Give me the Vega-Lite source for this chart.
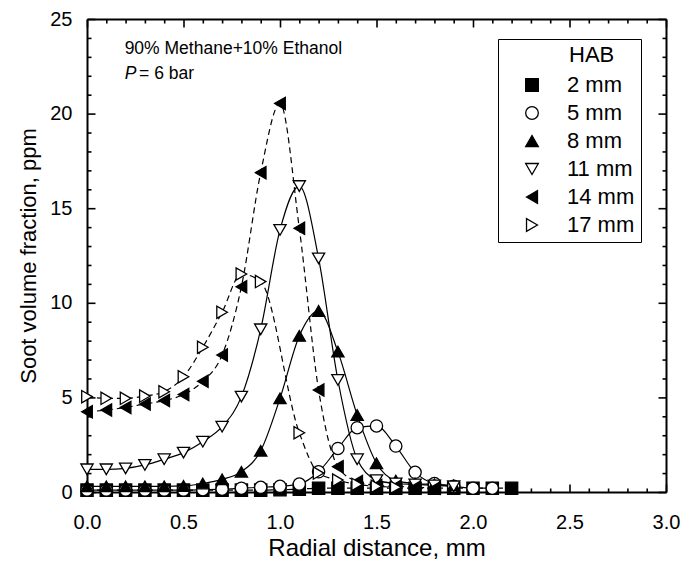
{
  "$schema": "https://vega.github.io/schema/vega-lite/v6.json",
  "width": 579,
  "height": 473,
  "autosize": {"type": "none"},
  "padding": {"left": 87, "top": 19, "right": 27, "bottom": 72},
  "background": "white",
  "config": {
    "view": {"stroke": null},
    "font": "Liberation Sans",
    "axis": {
      "domain": true, "domainColor": "black", "domainWidth": 2, "domainOpacity": 0,
      "ticks": true, "tickColor": "black", "tickWidth": 1.6, "tickOpacity": 1, "tickRound": false,
      "labelColor": "black", "titleColor": "black",
      "labelFontSize": 20, "titleFontSize": 24, "titleFontWeight": "normal",
      "labelFont": "Liberation Sans", "titleFont": "Liberation Sans",
      "grid": false, "labelOverlap": false, "labelFlush": false, "zindex": 2
    },
    "legend": {
      "titleFont": "Liberation Sans", "labelFont": "Liberation Sans",
      "titleFontSize": 22, "titleFontWeight": "normal", "titleColor": "black",
      "labelFontSize": 22, "labelColor": "black",
      "strokeColor": "black", "fillColor": "white", "padding": 6,
      "symbolSize": 160, "symbolStrokeWidth": 1.3, "symbolStrokeColor": "black",
      "rowPadding": 6, "labelOffset": 24, "symbolOffset": 17,
      "titleAnchor": "middle", "titleAlign": "left", "titlePadding": 7
    }
  },
  "data": {
    "values": [
      {"hab": "2 mm", "r": 0.0, "fv": 0.1}, {"hab": "2 mm", "r": 0.1, "fv": 0.1}, {"hab": "2 mm", "r": 0.2, "fv": 0.1}, {"hab": "2 mm", "r": 0.3, "fv": 0.1}, {"hab": "2 mm", "r": 0.4, "fv": 0.1}, {"hab": "2 mm", "r": 0.5, "fv": 0.1}, {"hab": "2 mm", "r": 0.6, "fv": 0.1}, {"hab": "2 mm", "r": 0.7, "fv": 0.1}, {"hab": "2 mm", "r": 0.8, "fv": 0.1}, {"hab": "2 mm", "r": 0.9, "fv": 0.1}, {"hab": "2 mm", "r": 1.0, "fv": 0.12}, {"hab": "2 mm", "r": 1.1, "fv": 0.15}, {"hab": "2 mm", "r": 1.2, "fv": 0.2}, {"hab": "2 mm", "r": 1.3, "fv": 0.2}, {"hab": "2 mm", "r": 1.4, "fv": 0.2}, {"hab": "2 mm", "r": 1.5, "fv": 0.2}, {"hab": "2 mm", "r": 1.6, "fv": 0.2}, {"hab": "2 mm", "r": 1.7, "fv": 0.2}, {"hab": "2 mm", "r": 1.8, "fv": 0.2}, {"hab": "2 mm", "r": 1.9, "fv": 0.2}, {"hab": "2 mm", "r": 2.0, "fv": 0.2}, {"hab": "2 mm", "r": 2.1, "fv": 0.2}, {"hab": "2 mm", "r": 2.2, "fv": 0.2},
      {"hab": "5 mm", "r": 0.0, "fv": 0.1}, {"hab": "5 mm", "r": 0.1, "fv": 0.1}, {"hab": "5 mm", "r": 0.2, "fv": 0.1}, {"hab": "5 mm", "r": 0.3, "fv": 0.1}, {"hab": "5 mm", "r": 0.4, "fv": 0.1}, {"hab": "5 mm", "r": 0.5, "fv": 0.1}, {"hab": "5 mm", "r": 0.6, "fv": 0.12}, {"hab": "5 mm", "r": 0.7, "fv": 0.15}, {"hab": "5 mm", "r": 0.8, "fv": 0.2}, {"hab": "5 mm", "r": 0.9, "fv": 0.25}, {"hab": "5 mm", "r": 1.0, "fv": 0.3}, {"hab": "5 mm", "r": 1.1, "fv": 0.42}, {"hab": "5 mm", "r": 1.2, "fv": 1.07}, {"hab": "5 mm", "r": 1.3, "fv": 2.3}, {"hab": "5 mm", "r": 1.4, "fv": 3.4}, {"hab": "5 mm", "r": 1.5, "fv": 3.49}, {"hab": "5 mm", "r": 1.6, "fv": 2.43}, {"hab": "5 mm", "r": 1.7, "fv": 1.04}, {"hab": "5 mm", "r": 1.8, "fv": 0.45}, {"hab": "5 mm", "r": 1.9, "fv": 0.3}, {"hab": "5 mm", "r": 2.0, "fv": 0.2}, {"hab": "5 mm", "r": 2.1, "fv": 0.2},
      {"hab": "8 mm", "r": 0.0, "fv": 0.3}, {"hab": "8 mm", "r": 0.1, "fv": 0.3}, {"hab": "8 mm", "r": 0.2, "fv": 0.3}, {"hab": "8 mm", "r": 0.3, "fv": 0.3}, {"hab": "8 mm", "r": 0.4, "fv": 0.3}, {"hab": "8 mm", "r": 0.5, "fv": 0.32}, {"hab": "8 mm", "r": 0.6, "fv": 0.45}, {"hab": "8 mm", "r": 0.7, "fv": 0.67}, {"hab": "8 mm", "r": 0.8, "fv": 1.07}, {"hab": "8 mm", "r": 0.9, "fv": 2.18}, {"hab": "8 mm", "r": 1.0, "fv": 4.95}, {"hab": "8 mm", "r": 1.1, "fv": 8.25}, {"hab": "8 mm", "r": 1.2, "fv": 9.57}, {"hab": "8 mm", "r": 1.3, "fv": 7.42}, {"hab": "8 mm", "r": 1.4, "fv": 4.07}, {"hab": "8 mm", "r": 1.5, "fv": 1.52}, {"hab": "8 mm", "r": 1.6, "fv": 0.6}, {"hab": "8 mm", "r": 1.7, "fv": 0.45}, {"hab": "8 mm", "r": 1.8, "fv": 0.4}, {"hab": "8 mm", "r": 1.9, "fv": 0.35},
      {"hab": "11 mm", "r": 0.0, "fv": 1.2}, {"hab": "11 mm", "r": 0.1, "fv": 1.2}, {"hab": "11 mm", "r": 0.2, "fv": 1.25}, {"hab": "11 mm", "r": 0.3, "fv": 1.43}, {"hab": "11 mm", "r": 0.4, "fv": 1.73}, {"hab": "11 mm", "r": 0.5, "fv": 2.08}, {"hab": "11 mm", "r": 0.6, "fv": 2.66}, {"hab": "11 mm", "r": 0.7, "fv": 3.45}, {"hab": "11 mm", "r": 0.8, "fv": 5.04}, {"hab": "11 mm", "r": 0.9, "fv": 8.6}, {"hab": "11 mm", "r": 1.0, "fv": 13.85}, {"hab": "11 mm", "r": 1.1, "fv": 16.17}, {"hab": "11 mm", "r": 1.2, "fv": 12.35}, {"hab": "11 mm", "r": 1.3, "fv": 5.92}, {"hab": "11 mm", "r": 1.4, "fv": 1.73}, {"hab": "11 mm", "r": 1.5, "fv": 0.63}, {"hab": "11 mm", "r": 1.6, "fv": 0.45}, {"hab": "11 mm", "r": 1.7, "fv": 0.4}, {"hab": "11 mm", "r": 1.8, "fv": 0.35}, {"hab": "11 mm", "r": 1.9, "fv": 0.3},
      {"hab": "14 mm", "r": 0.0, "fv": 4.24}, {"hab": "14 mm", "r": 0.1, "fv": 4.33}, {"hab": "14 mm", "r": 0.2, "fv": 4.47}, {"hab": "14 mm", "r": 0.3, "fv": 4.65}, {"hab": "14 mm", "r": 0.4, "fv": 4.83}, {"hab": "14 mm", "r": 0.5, "fv": 5.15}, {"hab": "14 mm", "r": 0.6, "fv": 5.85}, {"hab": "14 mm", "r": 0.7, "fv": 7.24}, {"hab": "14 mm", "r": 0.8, "fv": 10.85}, {"hab": "14 mm", "r": 0.9, "fv": 16.88}, {"hab": "14 mm", "r": 1.0, "fv": 20.54}, {"hab": "14 mm", "r": 1.1, "fv": 13.94}, {"hab": "14 mm", "r": 1.2, "fv": 5.39}, {"hab": "14 mm", "r": 1.3, "fv": 1.34}, {"hab": "14 mm", "r": 1.4, "fv": 0.55}, {"hab": "14 mm", "r": 1.5, "fv": 0.35}, {"hab": "14 mm", "r": 1.6, "fv": 0.3}, {"hab": "14 mm", "r": 1.7, "fv": 0.25}, {"hab": "14 mm", "r": 1.8, "fv": 0.2},
      {"hab": "17 mm", "r": 0.0, "fv": 5.04}, {"hab": "17 mm", "r": 0.1, "fv": 4.95}, {"hab": "17 mm", "r": 0.2, "fv": 4.95}, {"hab": "17 mm", "r": 0.3, "fv": 5.07}, {"hab": "17 mm", "r": 0.4, "fv": 5.3}, {"hab": "17 mm", "r": 0.5, "fv": 6.09}, {"hab": "17 mm", "r": 0.6, "fv": 7.65}, {"hab": "17 mm", "r": 0.7, "fv": 9.5}, {"hab": "17 mm", "r": 0.8, "fv": 11.52}, {"hab": "17 mm", "r": 0.9, "fv": 11.12}, {"hab": "17 mm", "r": 1.1, "fv": 3.13}, {"hab": "17 mm", "r": 1.2, "fv": 1.0}, {"hab": "17 mm", "r": 1.3, "fv": 0.63}, {"hab": "17 mm", "r": 1.4, "fv": 0.4}, {"hab": "17 mm", "r": 1.5, "fv": 0.3}, {"hab": "17 mm", "r": 1.6, "fv": 0.25}
    ]
  },
  "resolve": {"axis": {"x": "independent", "y": "independent"}},
  "layer": [
    {
      "transform": [{"filter": {"field": "hab", "oneOf": ["5 mm", "8 mm", "11 mm"]}}],
      "mark": {"type": "line", "interpolate": "monotone", "strokeWidth": 1.2, "color": "black"},
      "encoding": {
        "x": {"field": "r", "type": "quantitative", "scale": {"domain": [0, 3], "nice": false},
          "axis": {"orient": "bottom", "title": "Radial distance, mm",
            "values": [0, 0.5, 1, 1.5, 2, 2.5, 3], "format": ".1f",
            "offset": -8, "tickSize": 8, "labelPadding": 20, "titlePadding": 4,
            "encode": {"ticks": {"update": {"stroke": {"value": "black"}, "strokeWidth": {"value": 1.6}, "opacity": {"value": 1}}}}}},
        "y": {"field": "fv", "type": "quantitative", "scale": {"domain": [0, 25], "nice": false},
          "axis": {"orient": "left", "title": "Soot volume fraction, ppm", "titleFontSize": 22,
            "values": [0, 5, 10, 15, 20, 25], "format": "d",
            "offset": -8, "tickSize": 8, "labelPadding": 15, "titlePadding": 9,
            "encode": {"ticks": {"update": {"stroke": {"value": "black"}, "strokeWidth": {"value": 1.6}, "opacity": {"value": 1}}}}}},
        "detail": {"field": "hab", "type": "nominal"}
      }
    },
    {
      "transform": [{"filter": {"field": "hab", "oneOf": ["2 mm", "14 mm", "17 mm"]}}],
      "mark": {"type": "line", "interpolate": "monotone", "strokeWidth": 1.2, "color": "black", "strokeDash": [6, 4]},
      "encoding": {
        "x": {"field": "r", "type": "quantitative", "scale": {"domain": [0, 3], "nice": false},
          "axis": {"orient": "bottom", "title": null, "labels": false,
            "values": [0.1,0.2,0.3,0.4,0.6,0.7,0.8,0.9,1.1,1.2,1.3,1.4,1.6,1.7,1.8,1.9,2.1,2.2,2.3,2.4,2.6,2.7,2.8,2.9],
            "offset": -4, "tickSize": 4,
            "encode": {"ticks": {"update": {"stroke": {"value": "black"}, "strokeWidth": {"value": 1.6}, "opacity": {"value": 1}}}}}},
        "y": {"field": "fv", "type": "quantitative", "scale": {"domain": [0, 25], "nice": false},
          "axis": {"orient": "left", "title": null, "labels": false,
            "values": [1,2,3,4,6,7,8,9,11,12,13,14,16,17,18,19,21,22,23,24],
            "offset": -4, "tickSize": 4,
            "encode": {"ticks": {"update": {"stroke": {"value": "black"}, "strokeWidth": {"value": 1.6}, "opacity": {"value": 1}}}}}},
        "detail": {"field": "hab", "type": "nominal"}
      }
    },
    {
      "mark": {"type": "point", "opacity": 0},
      "encoding": {
        "x": {"field": "r", "type": "quantitative", "scale": {"domain": [0, 3], "nice": false},
          "axis": {"orient": "top", "title": null, "labels": false,
            "values": [0.1,0.2,0.3,0.4,0.6,0.7,0.8,0.9,1.1,1.2,1.3,1.4,1.6,1.7,1.8,1.9,2.1,2.2,2.3,2.4,2.6,2.7,2.8,2.9],
            "offset": -4, "tickSize": 4,
            "encode": {"ticks": {"update": {"stroke": {"value": "black"}, "strokeWidth": {"value": 1.6}, "opacity": {"value": 1}}}}}},
        "y": {"field": "fv", "type": "quantitative", "scale": {"domain": [0, 25], "nice": false},
          "axis": {"orient": "right", "title": null, "labels": false,
            "values": [1,2,3,4,6,7,8,9,11,12,13,14,16,17,18,19,21,22,23,24],
            "offset": -4, "tickSize": 4,
            "encode": {"ticks": {"update": {"stroke": {"value": "black"}, "strokeWidth": {"value": 1.6}, "opacity": {"value": 1}}}}}}
      }
    },
    {
      "mark": {"type": "point", "opacity": 0},
      "encoding": {
        "x": {"field": "r", "type": "quantitative", "scale": {"domain": [0, 3], "nice": false},
          "axis": {"orient": "bottom", "title": null, "labels": false, "ticks": false, "domain": true, "domainOpacity": 1}},
        "y": {"field": "fv", "type": "quantitative", "scale": {"domain": [0, 25], "nice": false},
          "axis": {"orient": "left", "title": null, "labels": false, "ticks": false, "domain": true, "domainOpacity": 1}}
      }
    },
    {
      "mark": {"type": "point", "opacity": 0},
      "encoding": {
        "x": {"field": "r", "type": "quantitative", "scale": {"domain": [0, 3], "nice": false},
          "axis": {"orient": "top", "title": null, "labels": false, "ticks": false, "domain": true, "domainOpacity": 1}},
        "y": {"field": "fv", "type": "quantitative", "scale": {"domain": [0, 25], "nice": false},
          "axis": {"orient": "right", "title": null, "labels": false, "ticks": false, "domain": true, "domainOpacity": 1}}
      }
    },
    {
      "mark": {"type": "point", "size": 150, "strokeWidth": 1.3, "opacity": 1},
      "encoding": {
        "x": {"field": "r", "type": "quantitative", "scale": {"domain": [0, 3], "nice": false},
          "axis": {"orient": "top", "title": null, "labels": false,
            "values": [0, 0.5, 1, 1.5, 2, 2.5, 3], "offset": -8, "tickSize": 8,
            "encode": {"ticks": {"update": {"stroke": {"value": "black"}, "strokeWidth": {"value": 1.6}, "opacity": {"value": 1}}}}}},
        "y": {"field": "fv", "type": "quantitative", "scale": {"domain": [0, 25], "nice": false},
          "axis": {"orient": "right", "title": null, "labels": false,
            "values": [0, 5, 10, 15, 20, 25], "offset": -8, "tickSize": 8,
            "encode": {"ticks": {"update": {"stroke": {"value": "black"}, "strokeWidth": {"value": 1.6}, "opacity": {"value": 1}}}}}},
        "shape": {"field": "hab", "type": "nominal",
          "scale": {"domain": ["2 mm", "5 mm", "8 mm", "11 mm", "14 mm", "17 mm"], "range": ["square", "circle", "triangle-up", "triangle-down", "triangle-left", "triangle-right"]},
          "legend": {"title": "HAB", "orient": "none", "legendX": 411, "legendY": 20}},
        "fill": {"field": "hab", "type": "nominal",
          "scale": {"domain": ["2 mm", "5 mm", "8 mm", "11 mm", "14 mm", "17 mm"], "range": ["black", "white", "black", "white", "black", "white"]},
          "legend": {"title": "HAB", "orient": "none", "legendX": 411, "legendY": 20}},
        "stroke": {"field": "hab", "type": "nominal",
          "scale": {"domain": ["2 mm", "5 mm", "8 mm", "11 mm", "14 mm", "17 mm"], "range": ["black", "black", "black", "black", "black", "black"]},
          "legend": {"title": "HAB", "orient": "none", "legendX": 411, "legendY": 20}}
      }
    },
    {
      "data": {"values": [{}]},
      "mark": {"type": "text", "text": "90% Methane+10% Ethanol", "align": "left", "baseline": "middle", "fontSize": 17.5, "color": "black", "font": "Liberation Sans"},
      "encoding": {"x": {"datum": 0.195, "type": "quantitative", "axis": null}, "y": {"datum": 23.41, "type": "quantitative", "axis": null}}
    },
    {
      "data": {"values": [{}]},
      "mark": {"type": "text", "text": "P", "align": "left", "baseline": "middle", "fontSize": 17.5, "fontStyle": "italic", "color": "black", "font": "Liberation Sans"},
      "encoding": {"x": {"datum": 0.195, "type": "quantitative", "axis": null}, "y": {"datum": 22.09, "type": "quantitative", "axis": null}}
    },
    {
      "data": {"values": [{}]},
      "mark": {"type": "text", "text": "= 6 bar", "align": "left", "baseline": "middle", "fontSize": 17.5, "color": "black", "font": "Liberation Sans"},
      "encoding": {"x": {"datum": 0.27, "type": "quantitative", "axis": null}, "y": {"datum": 22.09, "type": "quantitative", "axis": null}}
    }
  ]
}
